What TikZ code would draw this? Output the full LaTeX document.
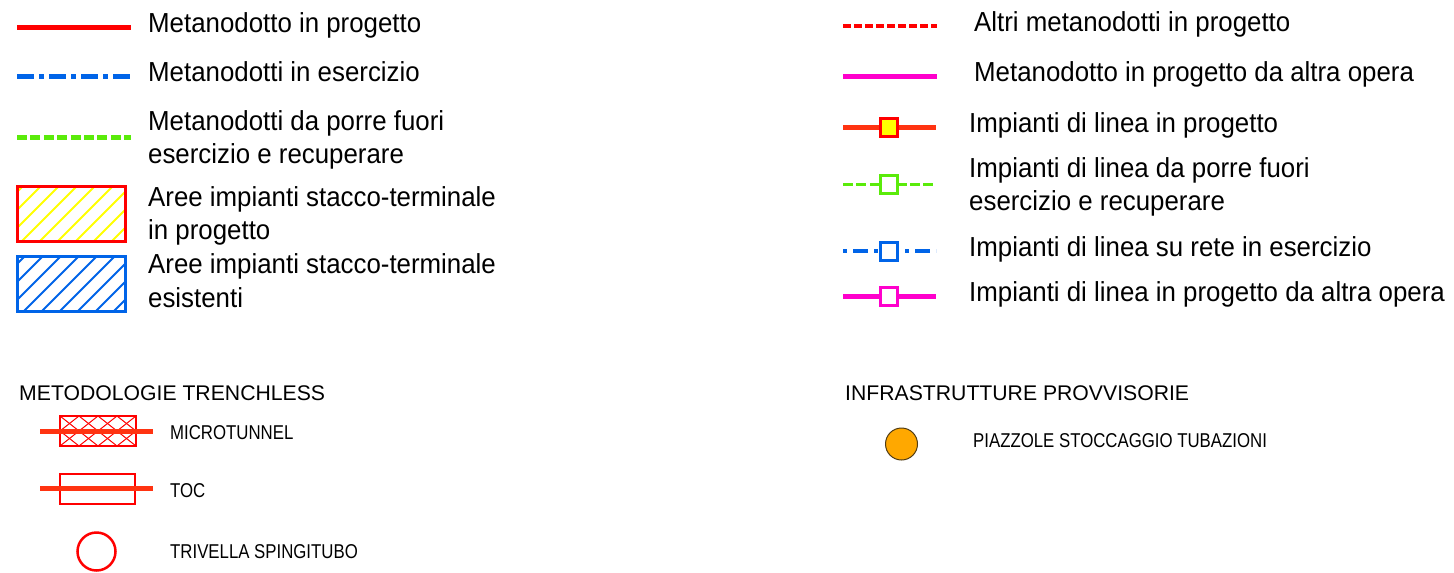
\documentclass[tikz,border=0pt]{standalone}
\usepackage{fontspec}
\setmainfont{Liberation Sans}
\newfontfamily\narrowA[FakeStretch=0.94]{Liberation Sans}
\newfontfamily\narrowB[FakeStretch=0.84]{Liberation Sans}
\definecolor{cred}{RGB}{255,0,0}
\definecolor{corg}{RGB}{255,51,17}
\definecolor{cblue}{RGB}{0,100,232}
\definecolor{cgreen}{RGB}{90,235,10}
\definecolor{cmag}{RGB}{255,0,204}
\definecolor{cyel}{RGB}{255,255,0}
\definecolor{cpiaz}{RGB}{255,168,0}
\definecolor{cbrown}{RGB}{80,60,20}
\tikzset{
  lbl/.style={anchor=base west,inner sep=0pt,font=\narrowA\fontsize{27.5}{33.5}\selectfont,align=left},
  sml/.style={anchor=base west,inner sep=0pt,font=\narrowB\fontsize{20}{24}\selectfont},
  hdr/.style={anchor=base west,inner sep=0pt,font=\fontsize{21.2}{25}\selectfont},
  thick line/.style={line width=5pt},
  dashdot line/.style={line width=5pt,dash pattern=on 17pt off 5pt on 5pt off 5pt},
  green dash/.style={line width=4.5pt,dash pattern=on 10pt off 3.4pt},
  red dash/.style={line width=4.5pt,dash pattern=on 8pt off 3pt},
  sq/.style={draw,line width=3pt,minimum width=17pt,minimum height=18pt,inner sep=0pt,fill=white},
}
\begin{document}
\begin{tikzpicture}[x=1pt,y=-1pt]
\useasboundingbox[fill=white] (0,0) rectangle (1454,573);

% ---------- left column ----------
\coordinate (a1) at (17,27); \coordinate (b1) at (131,27);
\draw[thick line,cred] (a1) -- (b1);
\node[lbl] (t1) at (148,32) {Metanodotto in progetto};

\coordinate (a2) at (17,76); \coordinate (b2) at (131,76);
\draw[dashdot line,cblue] (a2) -- (b2);
\node[lbl] (t2) at (148,81) {Metanodotti in esercizio};

\coordinate (a3) at (17,137.5); \coordinate (b3) at (131,137.5);
\draw[green dash,cgreen] (a3) -- (b3);
\node[lbl] (t3) at (148,163.5) {Metanodotti da porre fuori\\esercizio e recuperare};

% hatched rect 1
\begin{scope}
\clip (17,186) rectangle (125,241);
\foreach \i in {-50,-32,...,130} \draw[cyel,line width=2pt] (\i,241) -- ++(55,-55);
\end{scope}
\draw[cred,line width=3pt] (17,186) rectangle (125,241);
\node[lbl] (t4) at (148,239.5) {Aree impianti stacco-terminale\\in progetto};

% hatched rect 2
\begin{scope}
\clip (17,256) rectangle (125,311);
\foreach \i in {-50,-32,...,130} \draw[cblue,line width=2pt] (\i+2,311) -- ++(55,-55);
\end{scope}
\draw[cblue,line width=3pt] (17,256) rectangle (125,311);
\node[lbl] (t5) at (148,307) {Aree impianti stacco-terminale\\esistenti};

% trenchless
\node[hdr] (h1) at (19,400) {METODOLOGIE TRENCHLESS};

\begin{scope}
\clip (60,416) rectangle (136,446);
\foreach \k in {-4,...,4} {
  \draw[cred,line width=1pt] (60+19*\k,416) -- ++(38,30);
  \draw[cred,line width=1pt] (60+19*\k,446) -- ++(38,-30);
}
\end{scope}
\draw[cred,line width=1.5pt] (60,416) rectangle (136,446);
\coordinate (m1) at (40,431); \coordinate (m2) at (153,431);
\draw[corg,line width=5pt] (m1) -- (m2);
\node[sml] (t6) at (170,439) {MICROTUNNEL};

\draw[cred,line width=2.5pt] (60,474) rectangle (135,504);
\coordinate (c1) at (40,488.5); \coordinate (c2) at (153,488.5);
\draw[corg,line width=5pt] (c1) -- (c2);
\node[sml] (t7) at (170,497) {TOC};

\node[circle,draw=cred,line width=2.5pt,minimum size=38pt,inner sep=0pt] (tr) at (96.5,551.5) {};
\node[sml] (t8) at (170,558) {TRIVELLA SPINGITUBO};

% ---------- right column ----------
\coordinate (r1a) at (843,26); \coordinate (r1b) at (937,26);
\draw[red dash,cred] (r1a) -- (r1b);
\node[lbl] (u1) at (974,31) {Altri metanodotti in progetto};

\coordinate (r2a) at (843,76); \coordinate (r2b) at (937,76);
\draw[thick line,cmag] (r2a) -- (r2b);
\node[lbl] (u2) at (974,81) {Metanodotto in progetto da altra opera};

\coordinate (r3a) at (843,127); \coordinate (r3b) at (936,127);
\draw[thick line,corg] (r3a) -- (r3b);
\node[sq,draw=cred,fill=cyel] (s3) at (889,127) {};
\node[lbl] (u3) at (969,132) {Impianti di linea in progetto};

\coordinate (r4a) at (843,184.5); \coordinate (r4b) at (936,184.5);
\draw[green dash,line width=3.5pt,cgreen] (r4a) -- (r4b);
\node[sq,draw=cgreen] (s4) at (889,184.5) {};
\node[lbl] (u4) at (969,210.5) {Impianti di linea da porre fuori\\esercizio e recuperare};

\coordinate (r5a) at (843,251); \coordinate (r5b) at (936,251);
\draw[cblue,line width=3.5pt,dash pattern=on 4pt off 6pt on 15pt off 6pt] (r5a) -- (r5b);
\node[sq,draw=cblue] (s5) at (889,251) {};
\node[lbl] (u5) at (969,256) {Impianti di linea su rete in esercizio};

\coordinate (r6a) at (843,296); \coordinate (r6b) at (936,296);
\draw[thick line,cmag] (r6a) -- (r6b);
\node[sq,draw=cmag] (s6) at (889,296) {};
\node[lbl] (u6) at (969,301) {Impianti di linea in progetto da altra opera};

% provvisorie
\node[hdr] (h2) at (845,400) {INFRASTRUTTURE PROVVISORIE};
\node[circle,draw=cbrown,fill=cpiaz,line width=1pt,minimum size=32pt,inner sep=0pt] (pz) at (901.5,444) {};
\node[sml] (t9) at (973,447) {PIAZZOLE STOCCAGGIO TUBAZIONI};
\end{tikzpicture}
\end{document}
